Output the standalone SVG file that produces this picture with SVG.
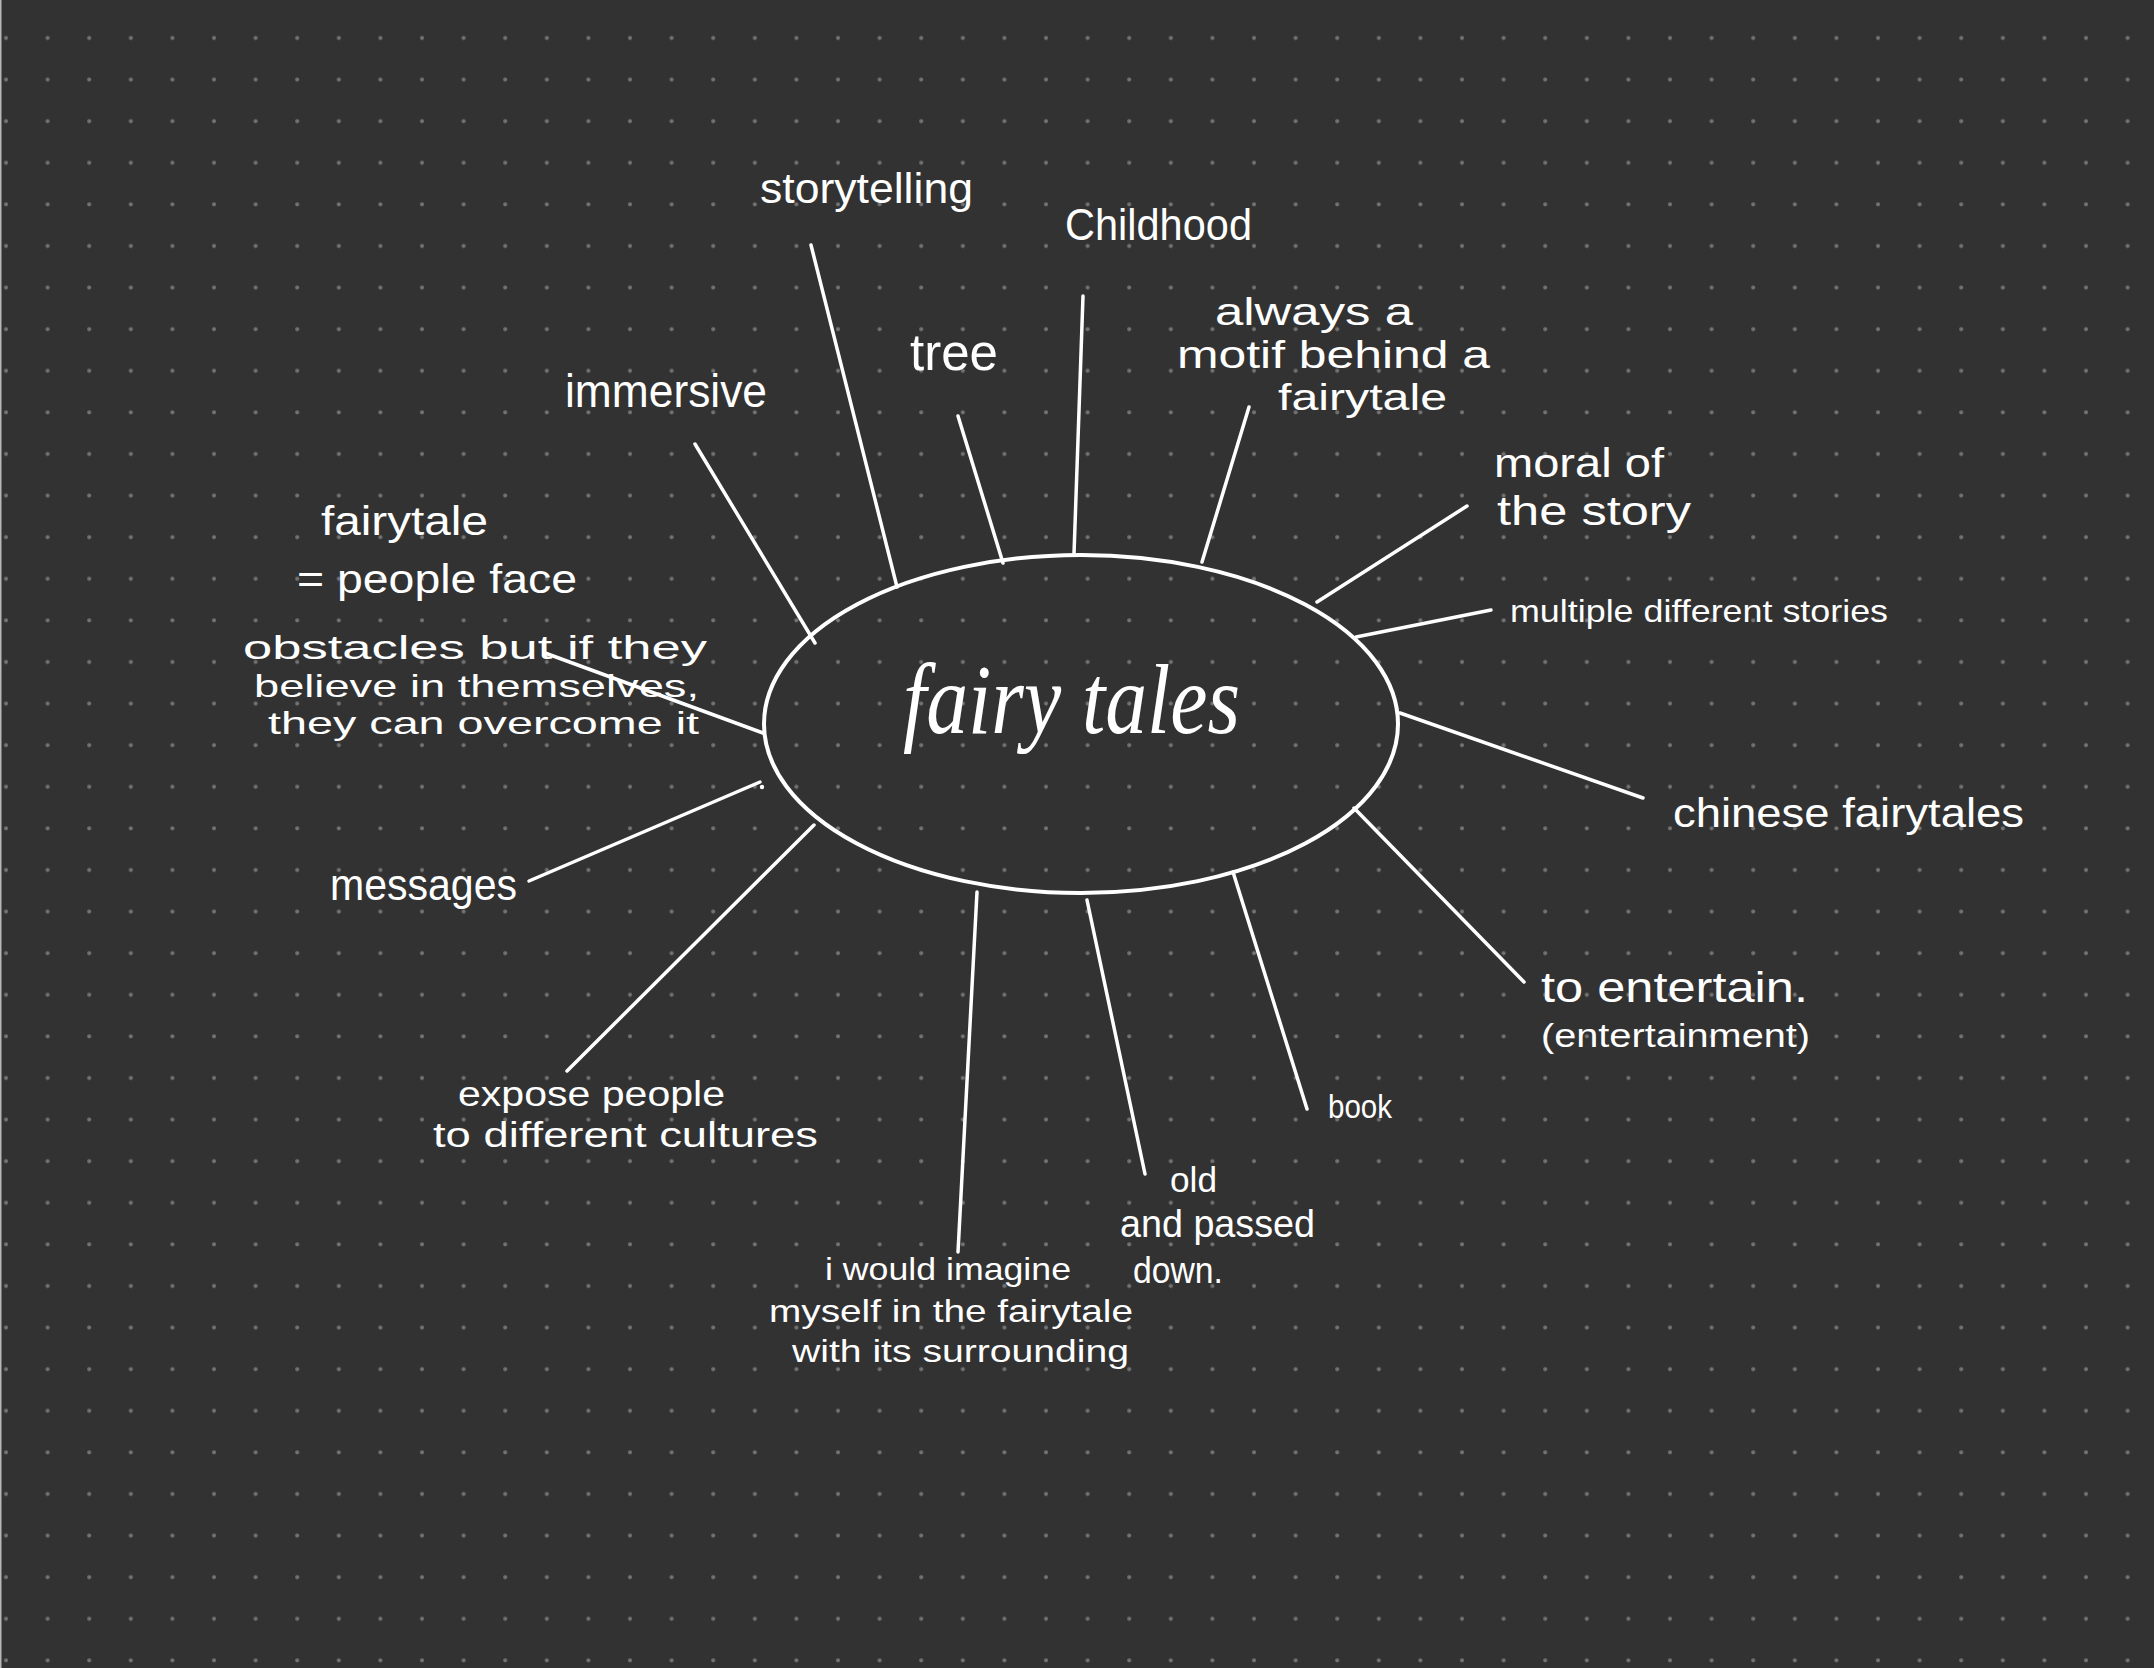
<svg xmlns="http://www.w3.org/2000/svg" width="2154" height="1668" viewBox="0 0 2154 1668">
  <defs>
    <pattern id="dots" x="0" y="0" width="41.6" height="41.6" patternUnits="userSpaceOnUse">
      <circle cx="6" cy="38" r="2" fill="#737373"/>
    </pattern>
    <style>
      .t { font-family: "Liberation Sans", Arial, sans-serif; fill: #ffffff; }
      .c { font-family: "Liberation Serif", "DejaVu Serif", serif; font-style: italic; fill: #ffffff; }
      .ln { stroke: #ffffff; stroke-width: 3.5; stroke-linecap: round; fill: none; }
    </style>
  </defs>
  <rect x="0" y="0" width="2154" height="1668" fill="#323232"/>
  <rect x="0" y="0" width="2154" height="1668" fill="url(#dots)"/>
  <rect x="0" y="0" width="1.5" height="1668" fill="#b8b8b8"/>

  <g id="connectors">
    <line class="ln" x1="811" y1="245" x2="897" y2="587"/>
    <line class="ln" x1="958" y1="416" x2="1003" y2="563"/>
    <line class="ln" x1="1083" y1="296" x2="1074" y2="554"/>
    <line class="ln" x1="1249" y1="407" x2="1202" y2="562"/>
    <line class="ln" x1="1467" y1="506" x2="1317" y2="602"/>
    <line class="ln" x1="1491" y1="610" x2="1356" y2="637"/>
    <line class="ln" x1="1400" y1="713" x2="1643" y2="798"/>
    <line class="ln" x1="1354" y1="808" x2="1524" y2="982"/>
    <line class="ln" x1="1233" y1="872" x2="1307" y2="1109"/>
    <line class="ln" x1="1087" y1="900" x2="1145" y2="1174"/>
    <line class="ln" x1="977" y1="892" x2="958" y2="1252"/>
    <line class="ln" x1="814" y1="825" x2="567" y2="1071"/>
    <line class="ln" x1="760" y1="782" x2="529" y2="881"/>
    <circle cx="762" cy="787" r="2.2" fill="#ffffff"/>
    <line class="ln" x1="545" y1="653" x2="763" y2="733"/>
    <line class="ln" x1="695" y1="444" x2="815" y2="643"/>
  </g>

  <g id="node-fairy-tales">
    <ellipse cx="1081" cy="724" rx="317" ry="169" fill="none" stroke="#ffffff" stroke-width="4"/>
    <text class="c" x="903" y="733" font-size="100" textLength="337" lengthAdjust="spacingAndGlyphs">fairy tales</text>
  </g>

  <g id="node-storytelling">
    <text class="t" x="760" y="203" font-size="42" textLength="213" lengthAdjust="spacingAndGlyphs">storytelling</text>
  </g>
  <g id="node-childhood">
    <text class="t" x="1065" y="240" font-size="44" textLength="187" lengthAdjust="spacingAndGlyphs">Childhood</text>
  </g>
  <g id="node-tree">
    <text class="t" x="910" y="370" font-size="52" textLength="88" lengthAdjust="spacingAndGlyphs">tree</text>
  </g>
  <g id="node-immersive">
    <text class="t" x="565" y="407" font-size="46" textLength="202" lengthAdjust="spacingAndGlyphs">immersive</text>
  </g>
  <g id="node-motif">
    <text class="t" x="1215" y="325" font-size="38" textLength="198" lengthAdjust="spacingAndGlyphs">always a</text>
    <text class="t" x="1177" y="368" font-size="38" textLength="313" lengthAdjust="spacingAndGlyphs">motif behind a</text>
    <text class="t" x="1278" y="410" font-size="36" textLength="169" lengthAdjust="spacingAndGlyphs">fairytale</text>
  </g>
  <g id="node-moral">
    <text class="t" x="1494" y="477" font-size="41" textLength="170" lengthAdjust="spacingAndGlyphs">moral of</text>
    <text class="t" x="1497" y="525" font-size="41" textLength="194" lengthAdjust="spacingAndGlyphs">the story</text>
  </g>
  <g id="node-multiple">
    <text class="t" x="1510" y="622" font-size="32" textLength="378" lengthAdjust="spacingAndGlyphs">multiple different stories</text>
  </g>
  <g id="node-chinese">
    <text class="t" x="1673" y="827" font-size="40" textLength="351" lengthAdjust="spacingAndGlyphs">chinese fairytales</text>
  </g>
  <g id="node-entertain">
    <text class="t" x="1541" y="1002" font-size="42" textLength="267" lengthAdjust="spacingAndGlyphs">to entertain.</text>
    <text class="t" x="1541" y="1047" font-size="34" textLength="269" lengthAdjust="spacingAndGlyphs">(entertainment)</text>
  </g>
  <g id="node-book">
    <text class="t" x="1328" y="1118" font-size="34" textLength="64" lengthAdjust="spacingAndGlyphs">book</text>
  </g>
  <g id="node-old">
    <text class="t" x="1170" y="1192" font-size="35" textLength="47" lengthAdjust="spacingAndGlyphs">old</text>
    <text class="t" x="1120" y="1237" font-size="38" textLength="195" lengthAdjust="spacingAndGlyphs">and passed</text>
    <text class="t" x="1133" y="1283" font-size="36" textLength="90" lengthAdjust="spacingAndGlyphs">down.</text>
  </g>
  <g id="node-imagine">
    <text class="t" x="825" y="1280" font-size="32" textLength="246" lengthAdjust="spacingAndGlyphs">i would imagine</text>
    <text class="t" x="769" y="1322" font-size="32" textLength="364" lengthAdjust="spacingAndGlyphs">myself in the fairytale</text>
    <text class="t" x="792" y="1362" font-size="32" textLength="337" lengthAdjust="spacingAndGlyphs">with its surrounding</text>
  </g>
  <g id="node-expose">
    <text class="t" x="458" y="1106" font-size="35" textLength="267" lengthAdjust="spacingAndGlyphs">expose people</text>
    <text class="t" x="433" y="1147" font-size="35" textLength="385" lengthAdjust="spacingAndGlyphs">to different cultures</text>
  </g>
  <g id="node-messages">
    <text class="t" x="330" y="900" font-size="44" textLength="187" lengthAdjust="spacingAndGlyphs">messages</text>
  </g>
  <g id="node-obstacles">
    <text class="t" x="321" y="535" font-size="40" textLength="167" lengthAdjust="spacingAndGlyphs">fairytale</text>
    <text class="t" x="297" y="593" font-size="40" textLength="280" lengthAdjust="spacingAndGlyphs">= people face</text>
    <text class="t" x="243" y="659" font-size="33" textLength="464" lengthAdjust="spacingAndGlyphs">obstacles but if they</text>
    <text class="t" x="254" y="697" font-size="32" textLength="445" lengthAdjust="spacingAndGlyphs">believe in themselves,</text>
    <text class="t" x="268" y="734" font-size="32" textLength="431" lengthAdjust="spacingAndGlyphs">they can overcome it</text>
  </g>
</svg>
